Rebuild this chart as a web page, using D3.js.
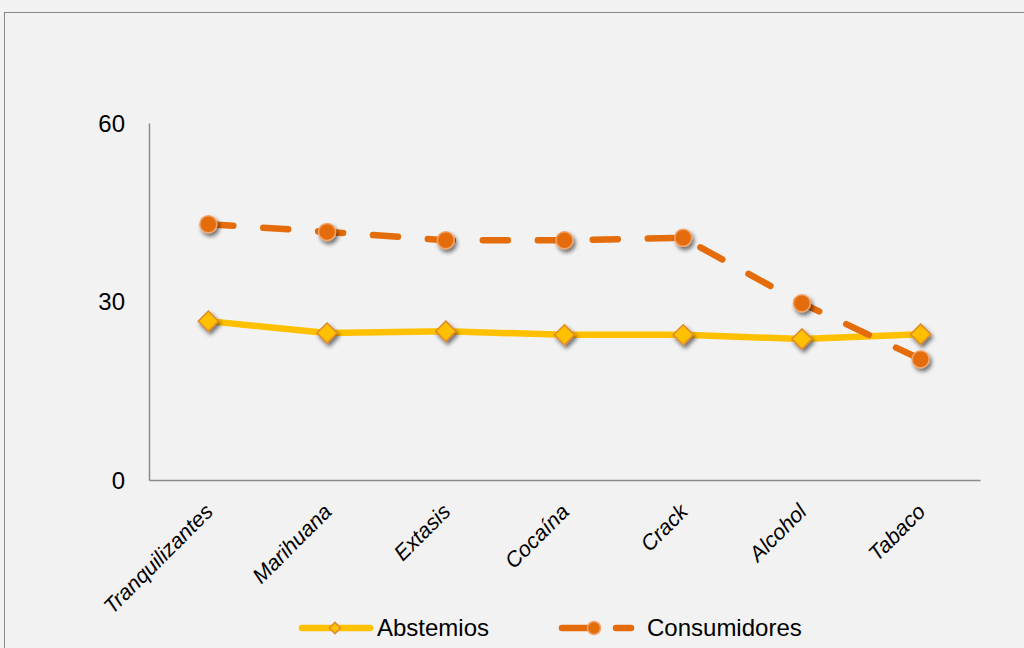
<!DOCTYPE html>
<html>
<head>
<meta charset="utf-8">
<script src="https://cdn.jsdelivr.net/npm/d3@7"></script>
<style>
  html, body { margin: 0; padding: 0; background: #f2f2f2; }
  svg { display: block; }
</style>
</head>
<body>
<svg id="chart" width="1024" height="648"></svg>
<script>
const categories = ["Tranquilizantes", "Marihuana", "Extasis", "Cocaína", "Crack", "Alcohol", "Tabaco"];
const abstemios = [26.7, 24.7, 25.0, 24.4, 24.4, 23.7, 24.5];
const consumidores = [43.0, 41.7, 40.3, 40.3, 40.7, 29.7, 20.3];
const yTicks = [0, 30, 60];
const seriesNames = ["Abstemios", "Consumidores"];

const svg = d3.select("#chart");
const W = 1024, H = 648;
const margin = { left: 149, right: 44, top: 123, bottom: 168 };
const FONT = "Liberation Sans, Arial, sans-serif";

svg.append("rect").attr("width", W).attr("height", H).attr("fill", "#f2f2f2");
svg.append("rect")
  .attr("x", 4.5).attr("y", 12.5).attr("width", W + 10).attr("height", H + 10)
  .attr("fill", "#f2f2f2").attr("stroke", "#878787").attr("stroke-width", 1);

const defs = svg.append("defs");
const f = defs.append("filter").attr("id", "shadow")
  .attr("x", "-50%").attr("y", "-50%").attr("width", "200%").attr("height", "200%");
f.append("feGaussianBlur").attr("in", "SourceAlpha").attr("stdDeviation", 2).attr("result", "b");
f.append("feOffset").attr("in", "b").attr("dx", 1.5).attr("dy", 2.5).attr("result", "o");
f.append("feComponentTransfer").attr("in", "o").attr("result", "s")
  .append("feFuncA").attr("type", "linear").attr("slope", 0.55);
const m = f.append("feMerge");
m.append("feMergeNode").attr("in", "s");
m.append("feMergeNode").attr("in", "SourceGraphic");

const x = d3.scaleBand().domain(categories).range([margin.left, W - margin.right]);
const y = d3.scaleLinear().domain([0, 60]).range([H - margin.bottom, margin.top]);
const cx = d => x(d) + x.bandwidth() / 2;

// axes
const yAxis = svg.append("g").attr("transform", `translate(${margin.left},0)`)
  .call(d3.axisLeft(y).tickValues(yTicks).tickSize(0).tickPadding(24));
yAxis.select(".domain").attr("stroke", "#8c8c8c").attr("stroke-width", 1.5);
yAxis.selectAll("text").attr("font-family", FONT)
  .attr("font-size", 24).attr("fill", "#000").attr("dy", "0.35em");

const xAxis = svg.append("g").attr("transform", `translate(0,${H - margin.bottom})`)
  .call(d3.axisBottom(x).tickSize(0).tickPadding(0));
xAxis.select(".domain").attr("stroke", "#8c8c8c").attr("stroke-width", 1.5);
xAxis.selectAll("text")
  .attr("font-family", FONT)
  .attr("font-size", 21.5).attr("font-style", "italic").attr("fill", "#000")
  .attr("text-anchor", "end").attr("dy", "0")
  .attr("transform", "translate(6,33) rotate(-45)")
  .attr("y", 0).attr("x", 0);

// Abstemios line
const line = d3.line().x((d, i) => cx(categories[i])).y(d => y(d));
svg.append("path").datum(abstemios).attr("d", line)
  .attr("fill", "none").attr("stroke", "#ffc000").attr("stroke-width", 6.5)
  .attr("stroke-linejoin", "round").attr("stroke-linecap", "round");

// Consumidores dashed line
svg.append("path").datum(consumidores).attr("d", line)
  .attr("fill", "none").attr("stroke", "#e46c0a").attr("stroke-width", 6.5)
  .attr("stroke-linecap", "round").attr("stroke-dasharray", "25 30");

const diamond = d3.symbol().type(d3.symbolDiamond2).size(260);

svg.append("g").selectAll("path").data(abstemios).join("path")
  .attr("d", diamond)
  .attr("transform", (d, i) => `translate(${cx(categories[i])},${y(d)})`)
  .attr("fill", "#ffc000").attr("stroke", "#e0892e").attr("stroke-width", 1.5)
  .attr("filter", "url(#shadow)");

const dots = svg.append("g").selectAll("g").data(consumidores).join("g")
  .attr("transform", (d, i) => `translate(${cx(categories[i])},${y(d)})`)
  .attr("filter", "url(#shadow)");
dots.append("circle").attr("r", 8.5).attr("fill", "#e46c0a")
  .attr("stroke", "#f2a36a").attr("stroke-width", 1.5);

// legend
const ly = 628;
const lg = svg.append("g").attr("font-family", FONT).attr("font-size", 24);
lg.append("line").attr("x1", 302).attr("x2", 370).attr("y1", ly).attr("y2", ly)
  .attr("stroke", "#ffc000").attr("stroke-width", 6.5).attr("stroke-linecap", "round");
lg.append("path").attr("d", d3.symbol().type(d3.symbolDiamond2).size(80))
  .attr("transform", `translate(335,${ly})`)
  .attr("fill", "#ffc000").attr("stroke", "#e0892e").attr("stroke-width", 1.5);
lg.append("text").attr("x", 377).attr("y", ly).attr("dy", "0.35em").text(seriesNames[0]);

lg.append("line").attr("x1", 562).attr("x2", 592).attr("y1", ly).attr("y2", ly)
  .attr("stroke", "#e46c0a").attr("stroke-width", 6.5).attr("stroke-linecap", "round");
lg.append("circle").attr("cx", 594).attr("cy", ly).attr("r", 6.5)
  .attr("fill", "#e46c0a").attr("stroke", "#f2a36a").attr("stroke-width", 1.5);
lg.append("line").attr("x1", 616).attr("x2", 631).attr("y1", ly).attr("y2", ly)
  .attr("stroke", "#e46c0a").attr("stroke-width", 6.5).attr("stroke-linecap", "round");
lg.append("text").attr("x", 647).attr("y", ly).attr("dy", "0.35em").text(seriesNames[1]);
</script>
</body>
</html>
